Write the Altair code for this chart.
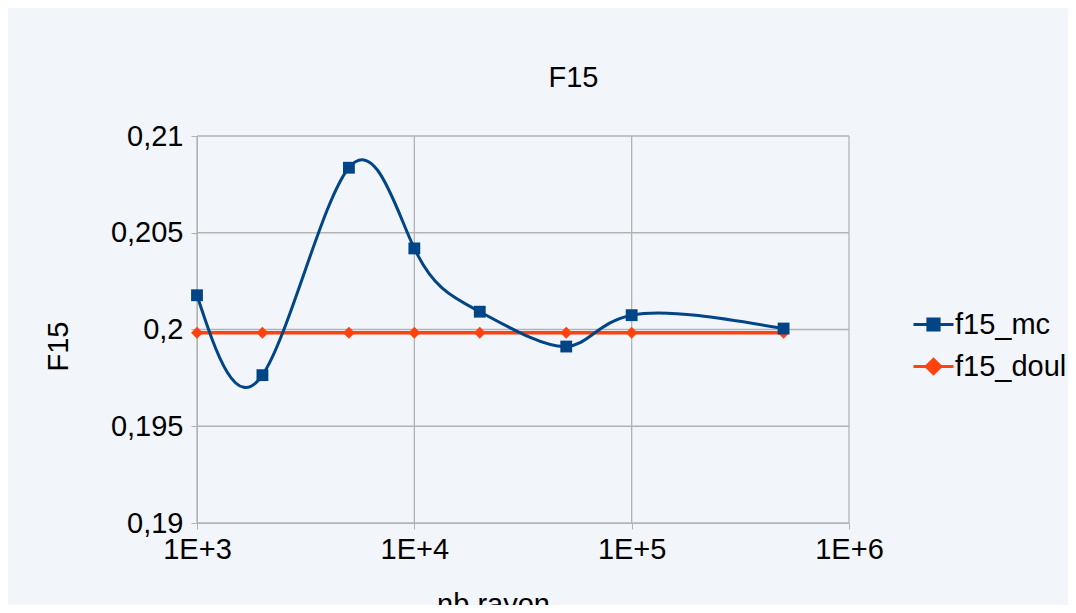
import altair as alt
import pandas as pd

# ---- data ----
rays = [1000, 2000, 5000, 10000, 20000, 50000, 100000, 500000]
f15_mc = [0.20177, 0.19764, 0.20836, 0.20419, 0.20092, 0.19912, 0.20074, 0.20005]
f15_doul = [0.19983, 0.19983, 0.19983, 0.19983, 0.19983, 0.19983, 0.19983, 0.19983]
series_names = ["f15_mc", "f15_doul"]
series_colors = ["#004586", "#ff420e"]
y_ticks = [0.19, 0.195, 0.2, 0.205, 0.21]
x_ticks = [1000, 10000, 100000, 1000000]

mc = pd.DataFrame({"rays": rays, "value": f15_mc, "series": "f15_mc"})
doul = pd.DataFrame({"rays": rays, "value": f15_doul, "series": "f15_doul"})
leg_df = pd.DataFrame({"series": series_names})

FONT = "Liberation Sans"
FS = 29
GRID = "#b3b3b3"

W, H = 1035, 565  # the white panel is the view
xs = alt.Scale(type="log", domain=[1000, 1000000], range=[164, 816], nice=False)
ys = alt.Scale(domain=[0.19, 0.21], range=[483, 96], nice=False, zero=False)

x_axis = alt.Axis(
    values=x_ticks, orient="bottom", offset=-(H - 483), grid=False,
    domainColor=GRID, tickColor=GRID, tickSize=6, labelPadding=6,
    labelFont=FONT, labelFontSize=FS, labelColor="black",
    labelFlush=False, labelOverlap=False,
    labelExpr="'1E+' + round(log(datum.value) / LN10)",
    title="nb rayon", titleFont=FONT, titleFontSize=FS, titleFontWeight="normal",
    titleColor="black", titleX=460, titleY=90, titleAlign="center",
    titleBaseline="alphabetic",
)
y_axis = alt.Axis(
    values=y_ticks, orient="left", offset=-164, grid=False,
    domainColor=GRID, tickColor=GRID, tickSize=6, labelPadding=8,
    labelFont=FONT, labelFontSize=FS, labelColor="black",
    labelFlush=False, labelOverlap=False,
    labelExpr="replace(format(datum.value, '~g'), '.', ',')",
    title="F15", titleFont=FONT, titleFontSize=FS, titleFontWeight="normal",
    titleColor="black", titleX=-139, titleY=306, titleAngle=-90,
    titleAlign="center", titleBaseline="middle",
)

# legend symbols: a short line with the series marker on it
SQ = "M-1,0H1M-0.28,-0.28H0.28V0.28H-0.28Z"
DI = "M-1,0H1M0,-0.36L0.36,0L0,0.36L-0.36,0Z"
legend = alt.Legend(
    orient="none", legendX=879, legendY=263, title=None, padding=0,
    symbolSize=1600, symbolStrokeWidth=3,
    labelFont=FONT, labelFontSize=FS, labelColor="black", labelOffset=0,
    rowPadding=5,
)
leg_color = alt.Color("series:N", scale=alt.Scale(domain=series_names, range=series_colors), legend=legend)
leg_stroke = alt.Stroke("series:N", scale=alt.Scale(domain=series_names, range=series_colors), legend=legend)
leg_shape = alt.Shape("series:N", scale=alt.Scale(domain=series_names, range=[SQ, DI]), legend=legend)

X = alt.X("rays:Q", scale=xs, axis=x_axis)
Y = alt.Y("value:Q", scale=ys, axis=y_axis)

hgrid = alt.Chart(pd.DataFrame({"value": y_ticks})).mark_rule(color=GRID, strokeWidth=1.3).encode(
    y=Y, x=alt.X(datum=1000, type="quantitative", scale=xs, axis=x_axis), x2=alt.X2(datum=1000000)
)
vgrid = alt.Chart(pd.DataFrame({"rays": x_ticks})).mark_rule(color=GRID, strokeWidth=1.3).encode(
    x=X, y=alt.Y(datum=0.19, type="quantitative", scale=ys, axis=y_axis), y2=alt.Y2(datum=0.21)
)

line_doul = alt.Chart(doul).mark_line(strokeWidth=3.5, color=series_colors[1]).encode(x=X, y=Y)
line_mc = alt.Chart(mc).mark_line(strokeWidth=3, interpolate="natural", color=series_colors[0]).encode(x=X, y=Y)
pts_doul = alt.Chart(doul).mark_point(shape="diamond", filled=True, size=140, opacity=1,
                                     color=series_colors[1]).encode(x=X, y=Y)
pts_mc = alt.Chart(mc).mark_point(shape="square", filled=True, size=140, opacity=1,
                                 color=series_colors[0]).encode(x=X, y=Y)
legend_layer = alt.Chart(leg_df).transform_filter("false").mark_point(
    filled=True, strokeWidth=3, opacity=1
).encode(color=leg_color, stroke=leg_stroke, shape=leg_shape)

chart = alt.layer(hgrid, vgrid, line_doul, line_mc, pts_doul, pts_mc, legend_layer).properties(
    width=W, height=H,
    autosize="none",
    padding={"left": 25, "top": 32, "right": 0, "bottom": 0},
    background="#f2f5fa",
    title=alt.TitleParams("F15", font=FONT, fontSize=FS, fontWeight="normal", color="black",
                          anchor="middle", frame="group", offset=0, dx=23, dy=76,
                          baseline="alphabetic"),
).configure_view(fill="white", stroke=None)

chart.save("out.html", embed_options={"renderer": "svg", "actions": False})
